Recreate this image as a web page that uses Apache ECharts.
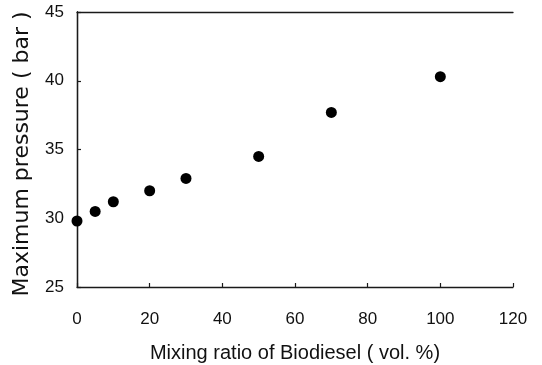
<!DOCTYPE html>
<html>
<head>
<meta charset="utf-8">
<script src="https://cdn.jsdelivr.net/npm/echarts@6/dist/echarts.min.js"></script>
<style>
  html, body { margin: 0; padding: 0; background: #fff; }
  #chart { width: 542px; height: 365px; }
</style>
</head>
<body>
<div id="chart"></div>
<script>
// Biodiesel blend ratio (vol. %) and measured peak cylinder pressure (bar)
const mixingRatio = [0, 5, 10, 20, 30, 50, 70, 100];
const maxPressure = [29.8, 30.5, 31.2, 32.0, 32.9, 34.5, 37.7, 40.3];

const xTicks = { min: 0, max: 120, interval: 20 };
const yTicks = { min: 25, max: 45, interval: 5 };

const FONT = 'Liberation Sans, Arial, Helvetica, sans-serif';
const WIDE_FONT = 'DejaVu Sans, Verdana, sans-serif';

const chart = echarts.init(document.getElementById('chart'), null, { renderer: 'canvas' });

const axisLine = { show: true, lineStyle: { color: '#1a1a1a', width: 1.3 } };
const tickStyle = { show: true, inside: true, length: 4, lineStyle: { color: '#1a1a1a', width: 1.2 } };

chart.setOption({
  animation: false,
  backgroundColor: '#fff',
  grid: {
    left: 77, right: 29, top: 12, bottom: 78,
    containLabel: false,
    outerBoundsMode: 'none',
    show: false
  },
  xAxis: [{
    type: 'value',
    min: xTicks.min, max: xTicks.max, interval: xTicks.interval,
    name: 'Mixing ratio of Biodiesel ( vol. %)',
    nameLocation: 'middle',
    nameGap: 56,
    nameTextStyle: { fontFamily: FONT, fontSize: 20, color: '#111' },
    axisLine: axisLine,
    axisTick: tickStyle,
    axisLabel: { fontFamily: FONT, fontSize: 17, color: '#111', margin: 24 },
    splitLine: { show: false }
  }, {
    type: 'value', position: 'top',
    min: xTicks.min, max: xTicks.max, interval: xTicks.interval,
    axisLine: axisLine, axisTick: { show: false }, axisLabel: { show: false },
    splitLine: { show: false }
  }],
  yAxis: [{
    type: 'value',
    min: yTicks.min, max: yTicks.max, interval: yTicks.interval,
    name: 'Maximum pressure ( bar )',
    nameLocation: 'middle',
    nameGap: 44,
    nameTextStyle: { fontFamily: WIDE_FONT, fontSize: 22, color: '#111', padding: [0, 9, 0, 0] },
    axisLine: axisLine,
    axisTick: tickStyle,
    axisLabel: { fontFamily: FONT, fontSize: 17, color: '#111', margin: 13, padding: [3, 0, 0, 0] },
    splitLine: { show: false }
  }, {
    type: 'value', position: 'right',
    min: yTicks.min, max: yTicks.max, interval: yTicks.interval,
    axisLine: axisLine, axisTick: { show: false }, axisLabel: { show: false },
    splitLine: { show: false }
  }],
  series: [{
    type: 'scatter',
    xAxisIndex: 0, yAxisIndex: 0,
    symbol: 'circle',
    symbolSize: 11,
    itemStyle: { color: '#000', opacity: 1 },
    data: mixingRatio.map((x, i) => [x, maxPressure[i]])
  }]
});
</script>
</body>
</html>
